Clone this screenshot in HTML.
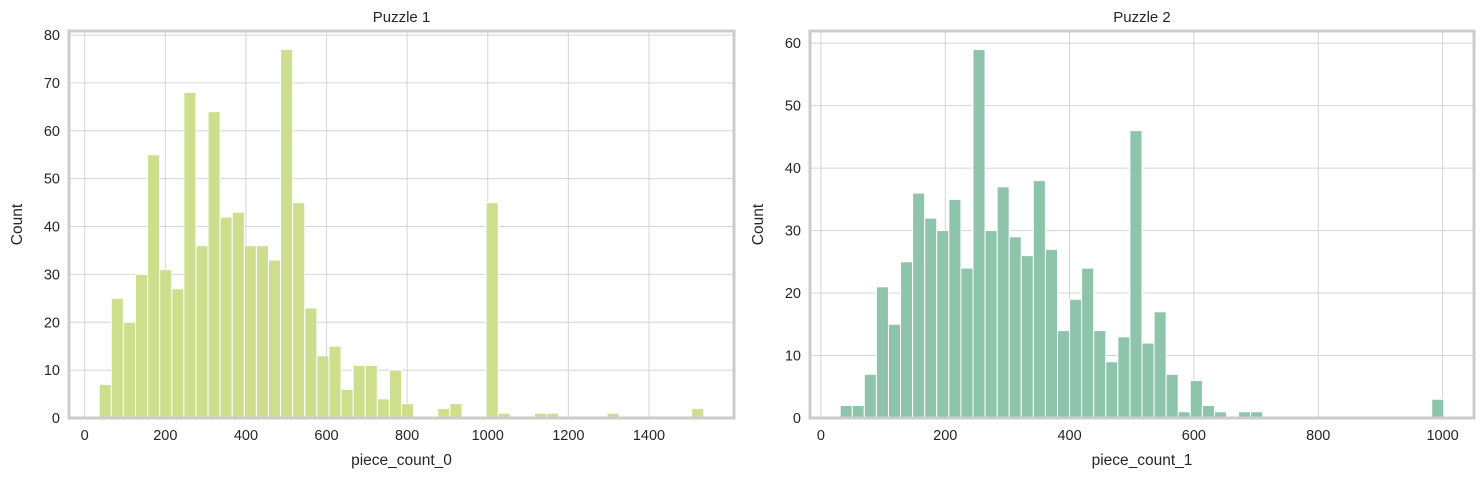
<!DOCTYPE html>
<html><head><meta charset="utf-8"><style>
body{margin:0;background:#fff;font-family:"Liberation Sans",sans-serif}
svg text{font-family:"Liberation Sans",sans-serif;fill:#262626}
</style></head><body>
<svg id="s" width="1484" height="484" xmlns="http://www.w3.org/2000/svg"></svg>
<script>
const counts1=[7,25,20,30,55,31,27,68,36,64,42,43,36,36,33,77,45,23,13,15,6,11,11,4,10,3,0,0,2,3,0,0,45,1,0,0,1,1,0,0,0,0,1,0,0,0,0,0,0,2];
const counts2=[2,2,7,21,15,25,36,32,30,35,24,59,30,37,29,26,38,27,14,19,24,14,9,13,46,12,17,7,1,6,2,1,0,1,1,0,0,0,0,0,0,0,0,0,0,0,0,0,0,3];
const xTicks1=[0,200,400,600,800,1000,1200,1400];
const yTicks1=[0,10,20,30,40,50,60,70,80];
const xTicks2=[0,200,400,600,800,1000];
const yTicks2=[0,10,20,30,40,50,60];
const range1=[36,1536];
const range2=[31,1002];
const svg=document.getElementById('s');
const NS='http://www.w3.org/2000/svg';
function mk(t,a,p){const e=document.createElementNS(NS,t);for(const k in a)e.setAttribute(k,a[k]);(p||svg).appendChild(e);return e;}
function chart(o){
  const g=mk('g',{});
  
  
  const L=o.L,R=o.R,T=o.T,B=o.B;
  const [a,b]=o.range,span=b-a,pad=span*0.05;
  const x0=a-pad,x1=b+pad;
  const ymax=Math.max(...o.counts)*1.05;
  const X=v=>L+(v-x0)/(x1-x0)*(R-L);
  const Y=v=>B-v/ymax*(B-T);
  o.yTicks.forEach(t=>{const y=Y(t);
    const l=mk('line',{x1:L,x2:R,y1:y,y2:y,stroke:'#d4d4d4','stroke-width':1},g);
    
    const tx=mk('text',{x:L-9,y:y+5,'text-anchor':'end','font-size':'14.5px'},g);tx.textContent=t;
    });
  o.xTicks.forEach(t=>{const x=X(t);
    const l=mk('line',{x1:x,x2:x,y1:T,y2:B,stroke:'#d4d4d4','stroke-width':1},g);
    
    const tx=mk('text',{x:x,y:B+22,'text-anchor':'middle','font-size':'14.5px'},g);tx.textContent=t;
    });
  const w=span/o.counts.length;
  o.counts.forEach((c,i)=>{if(!c)return;
    const xa=X(a+i*w),xb=X(a+(i+1)*w);
    const r=mk('rect',{x:xa,y:Y(c),width:xb-xa,height:B-Y(c),fill:o.color,stroke:'#fff','stroke-width':1},g);
    });
  const f=mk('rect',{x:L,y:T,width:R-L,height:B-T,fill:'none',stroke:'#cccccc','stroke-width':3},g);
  
  const ti=mk('text',{x:(L+R)/2,y:T-9,'text-anchor':'middle','font-size':'15px'},g);ti.textContent=o.title;
  
  const xl=mk('text',{x:(L+R)/2,y:B+47,'text-anchor':'middle','font-size':'15.5px'},g);xl.textContent=o.xlabel;
  
  const yl=mk('text',{x:0,y:0,'text-anchor':'middle','font-size':'15.5px',transform:`translate(${L-47},${(T+B)/2}) rotate(-90)`},g);yl.textContent='Count';
  
}
chart({name:'puzzle-1-chart',L:69,R:734,T:31,B:418,range:range1,counts:counts1,xTicks:xTicks1,yTicks:yTicks1,color:'#cddf8d',title:'Puzzle 1',xlabel:'piece_count_0'});
chart({name:'puzzle-2-chart',L:810,R:1474,T:31,B:418,range:range2,counts:counts2,xTicks:xTicks2,yTicks:yTicks2,color:'#8dc4ab',title:'Puzzle 2',xlabel:'piece_count_1'});
</script>
</body></html>
